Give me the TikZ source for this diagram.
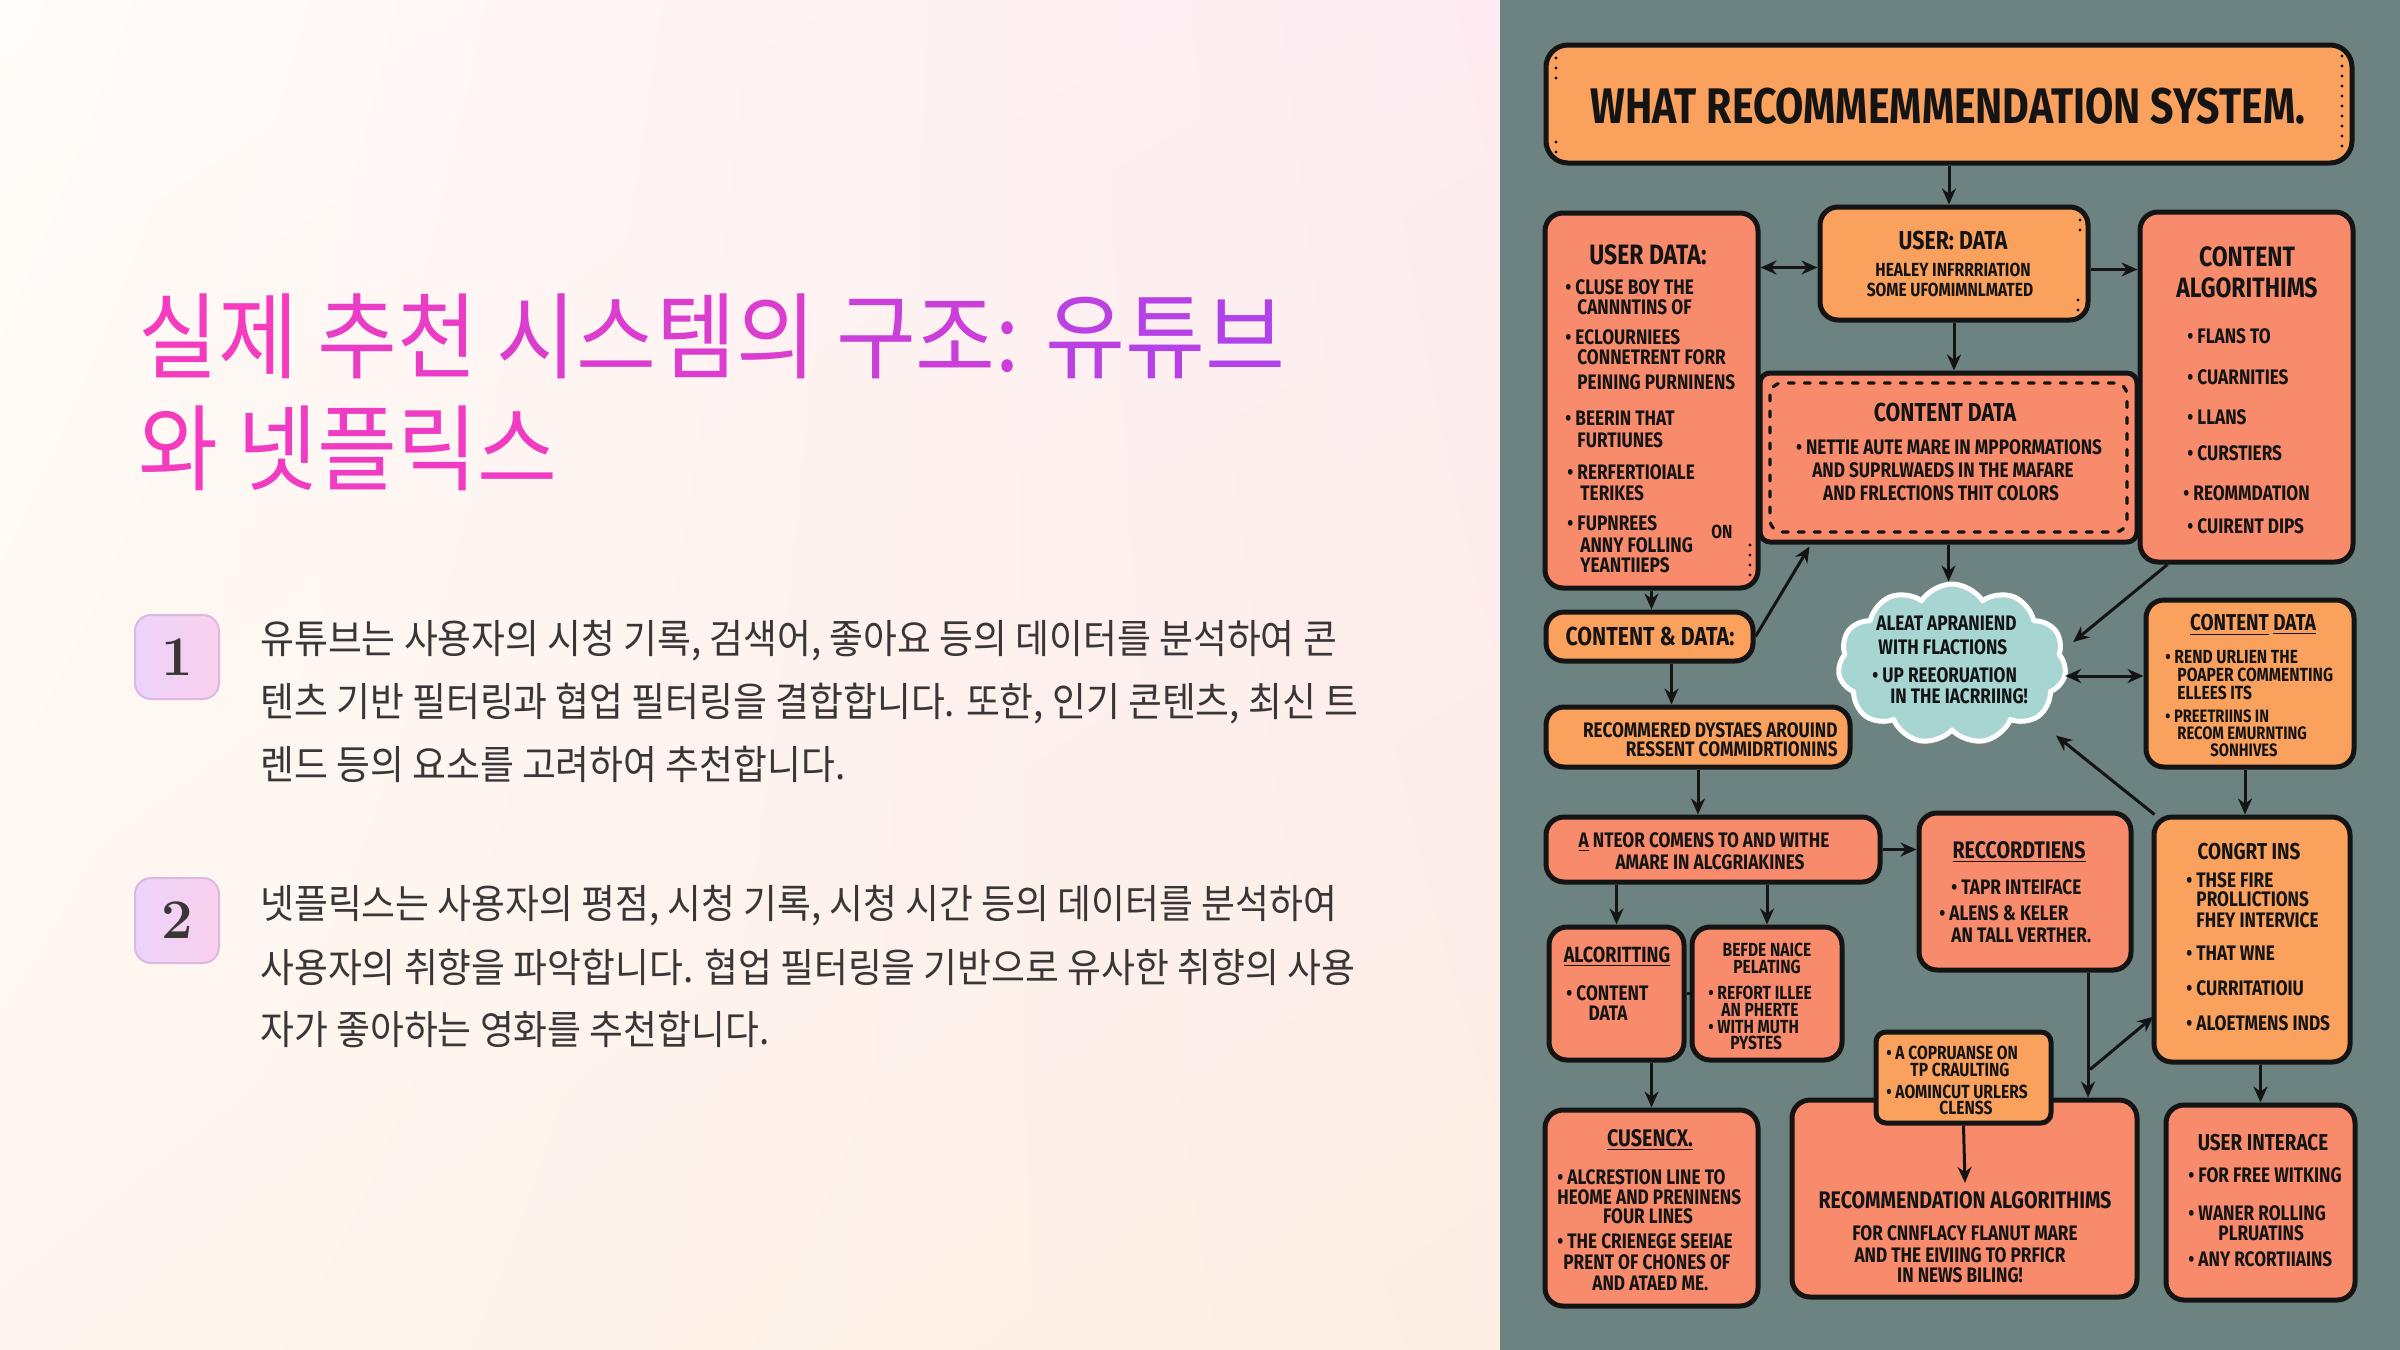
\documentclass[tikz,border=0pt]{standalone}
\usepackage{fontspec}
\usetikzlibrary{arrows.meta,shapes.symbols,fit,calc,shadings}
\newfontfamily\kr[FakeStretch=0.92]{Noto Sans CJK KR}
\newfontfamily\krt[FakeStretch=0.924]{Noto Sans CJK KR}
\newfontfamily\hand[FakeStretch=0.82]{Fira Sans}
\definecolor{gbg}{HTML}{6C8381}
\definecolor{ora}{HTML}{F9A15D}
\definecolor{sal}{HTML}{F88B6B}
\definecolor{cloudc}{HTML}{A6D5D2}
\definecolor{pk}{HTML}{F53BBE}
\definecolor{pu}{HTML}{B042EA}
\definecolor{kt}{HTML}{383636}
\definecolor{ink}{HTML}{141414}
\definecolor{nbA}{HTML}{EBD3FA}
\definecolor{nbB}{HTML}{FBD0EC}
\definecolor{nbD}{HTML}{DDB8E2}
\definecolor{bgUL}{HTML}{FFFCF9}
\definecolor{bgUR}{HTML}{FDEBF1}
\definecolor{bgLL}{HTML}{FEF6EE}
\definecolor{bgLR}{HTML}{FDEEE4}
\newcounter{tl}
\newcommand\hl[4][]{\stepcounter{tl}\edef\tlname{t\arabic{tl}}\node[bt,#1] (\tlname) at (#2,#3) {#4};}
\newcommand\hc[4][]{\hl[anchor=center,#1]{#2}{#3}{#4}}
\begin{document}
\begin{tikzpicture}[x=0.5pt,y=-0.5pt,line join=round,
  box/.style={draw=ink,line width=2.5pt,rounded corners=9pt,inner sep=0pt},
  bt/.style={inner sep=0pt,anchor=west,text=ink,font=\hand\bfseries\fontsize{10.5}{12}\selectfont},
  sm/.style={font=\hand\bfseries\fontsize{9.5}{11}\selectfont},
  xs/.style={font=\hand\bfseries\fontsize{9}{10}\selectfont},
  hd/.style={font=\hand\bfseries\fontsize{12}{14}\selectfont},
  arr/.style={draw=ink,line width=1.5pt,-{Stealth[length=8pt,width=7pt]}},
  darr/.style={draw=ink,line width=1.5pt,{Stealth[length=8pt,width=7pt]}-{Stealth[length=8pt,width=7pt]}},
  dotline/.style={draw=ink,line width=1.6pt,line cap=round,dash pattern=on 0pt off 5pt},
  kb/.style={inner sep=0pt,anchor=west,text=kt,font=\kr\fontsize{20}{24}\selectfont},
  numbox/.style={draw=nbD,line width=1pt,rounded corners=8pt,left color=nbA,right color=nbB,inner sep=0pt},
  numtxt/.style={text=kt,font=\bfseries\fontsize{28}{30}\selectfont}]
\useasboundingbox (0,0) rectangle (2400,1350);
% left background
\shade[upper left=bgUL,upper right=bgUR,lower left=bgLL,lower right=bgLR] (0,0) rectangle (1500,1350);
% title
\node[kb,text=pk,font=\krt\fontsize{47}{50}\selectfont] (ttl1) at (138,336)
  {\color{pk}실제 \color{pk!85!pu}추천 \color{pk!62!pu}시스템의 \color{pk!38!pu}구조: \color{pk!18!pu}유\color{pk!9!pu}튜\color{pu}브};
\node[kb,text=pk,font=\krt\fontsize{47}{50}\selectfont] (ttl2) at (138,448) {와 \color{pk!92!pu}넷플릭스};
% number boxes
\node[numbox,fit={(135,615)(219,699)}] (n1) {};
\node[numtxt] (n1t) at (n1.center) {1};
\node[numbox,fit={(135,878)(219,963)}] (n2) {};
\node[numtxt] (n2t) at (n2.center) {2};
% paragraphs
\node[kb] (p1a) at (260,641) {유튜브는 사용자의 시청 기록, 검색어, 좋아요 등의 데이터를 분석하여 콘};
\node[kb] (p1b) at (260,704) {텐츠 기반 필터링과 협업 필터링을 결합합니다. 또한, 인기 콘텐츠, 최신 트};
\node[kb] (p1c) at (260,764) {렌드 등의 요소를 고려하여 추천합니다.};
\node[kb] (p2a) at (260,906) {넷플릭스는 사용자의 평점, 시청 기록, 시청 시간 등의 데이터를 분석하여};
\node[kb] (p2b) at (260,967) {사용자의 취향을 파악합니다. 협업 필터링을 기반으로 유사한 취향의 사용};
\node[kb] (p2c) at (260,1029) {자가 좋아하는 영화를 추천합니다.};
% right panel
\fill[gbg] (1500,0) rectangle (2400,1350);
% boxes
\node[box,fill=ora,rounded corners=11pt,fit={(1546,45)(2352,163)}] (tb) {};
\node[box,fill=ora,fit={(1820,207)(2088,320)}] (ub) {};
\node[box,fill=sal,fit={(1545,213)(1758,588)}] (ud) {};
\node[box,fill=sal,fit={(2140,212)(2353,562)}] (ca) {};
\node[box,fill=sal,rounded corners=5pt,fit={(1760,373)(2137,542)}] (cd) {};
\node[box,fill=ora,fit={(1546,612)(1753,661)}] (cdd) {};
\node[box,fill=ora,fit={(1546,707)(1850,767)}] (rd) {};
\node[box,fill=ora,fit={(2146,600)(2354,767)}] (rcd) {};
\node[box,fill=sal,fit={(1546,817)(1880,882)}] (an) {};
\node[box,fill=sal,fit={(1919,813)(2131,970)}] (rc) {};
\node[box,fill=ora,fit={(2154,817)(2350,1062)}] (cg) {};
\node[box,fill=sal,fit={(1549,927)(1684,1060)}] (al) {};
\node[box,fill=sal,fit={(1692,927)(1842,1060)}] (bf) {};
\node[box,fill=sal,fit={(1792,1100)(2137,1297)}] (ra) {};
\node[box,fill=ora,rounded corners=5pt,fit={(1876,1032)(2051,1123)}] (sb) {};
\node[box,fill=sal,fit={(1545,1110)(1758,1306)}] (cu) {};
\node[box,fill=sal,fit={(2166,1105)(2355,1300)}] (ui) {};
\node[cloud,cloud puffs=11,cloud puff arc=115,aspect=1.42,draw=white,line width=2.5pt,fill=cloudc,
      minimum width=114pt,minimum height=80pt,inner sep=0pt] (cl) at (1952,664) {};
% decorative dots
\draw[dotline,dash pattern=on 3pt off 5pt,rounded corners=6pt] (1770,383) rectangle (2127,532);
\draw[dotline] (1556,58) -- (1556,80);
\draw[dotline] (1556,142) -- (1556,152);
\draw[dotline] (2342,56) -- (2342,152);
\draw[dotline] (1750,545) -- (1750,580);
\draw[dotline] (2080,220) -- (2080,232);
\draw[dotline] (2078,300) -- (2078,312);
% texts: title box
\hc[font=\hand\bfseries\fontsize{25}{30}\selectfont]{1948}{106}{WHAT RECOMMEMMENDATION SYSTEM.}
% user: data
\hc[hd,font=\hand\bfseries\fontsize{13}{15}\selectfont]{1953}{240}{USER: DATA}
\hc[sm]{1953}{270}{HEALEY INFRRRIATION}
\hc[sm]{1950}{290}{SOME UFOMIMNLMATED}
% user data
\hc[hd,font=\hand\bfseries\fontsize{14}{16}\selectfont]{1648}{255}{USER DATA:}
\hl{1565}{287}{• CLUSE BOY THE}
\hl{1577}{307}{CANNNTINS OF}
\hl{1565}{337}{• ECLOURNIEES}
\hl{1577}{357}{CONNETRENT FORR}
\hl{1577}{382}{PEINING PURNINENS}
\hl{1565}{418}{• BEERIN THAT}
\hl{1577}{440}{FURTIUNES}
\hl{1567}{472}{• RERFERTIOIALE}
\hl{1580}{493}{TERIKES}
\hl{1567}{523}{• FUPNREES}
\hl[sm]{1711}{532}{ON}
\hl{1580}{545}{ANNY FOLLING}
\hl{1580}{565}{YEANTIIEPS}
% content algorithims
\hc[hd,font=\hand\bfseries\fontsize{14}{16}\selectfont]{2247}{257}{CONTENT}
\hc[hd,font=\hand\bfseries\fontsize{14}{16}\selectfont]{2247}{288}{ALGORITHIMS}
\hl{2187}{336}{• FLANS TO}
\hl{2187}{377}{• CUARNITIES}
\hl{2187}{417}{• LLANS}
\hl{2187}{453}{• CURSTIERS}
\hl{2183}{493}{• REOMMDATION}
\hl{2187}{526}{• CUIRENT DIPS}
% content data (centre)
\hc[hd,font=\hand\bfseries\fontsize{13}{15}\selectfont]{1945}{412}{CONTENT DATA}
\hc{1949}{447}{• NETTIE AUTE MARE IN MPPORMATIONS}
\hc{1943}{470}{AND SUPRLWAEDS IN THE MAFARE}
\hc{1941}{493}{AND FRLECTIONS THIT COLORS}
% cloud
\hl{1876}{623}{ALEAT APRANIEND}
\hl{1878}{647}{WITH FLACTIONS}
\hl{1872}{675}{• UP REEORUATION}
\hl{1890}{696}{IN THE IACRRIING!}
% content & data
\hc[hd,font=\hand\bfseries\fontsize{13}{15}\selectfont]{1650}{636}{CONTENT \& DATA:}
% recommered
\hl[anchor=east]{1838}{730}{RECOMMERED DYSTAES AROUIND}
\hl[anchor=east]{1838}{749}{RESSENT COMMIDRTIONINS}
% right content data
\hc[hd,font=\hand\bfseries\fontsize{11.5}{13}\selectfont]{2253}{625}{\underline{CONTENT} \underline{DATA}}
\hl[sm]{2165}{657}{• REND URLIEN THE}
\hl[sm]{2177}{675}{POAPER COMMENTING}
\hl[sm]{2177}{693}{ELLEES ITS}
\hl[xs]{2165}{716}{• PREETRIINS IN}
\hl[xs]{2177}{733}{RECOM EMURNTING}
\hl[xs]{2210}{750}{SONHIVES}
% a nteor
\hc{1704}{842}{\underline{A} NTEOR COMENS TO AND WITHE}
\hc{1710}{862}{AMARE IN ALCGRIAKINES}
% reccordtiens
\hc[hd]{2019}{852}{\underline{RECCORDTIENS}}
\hl{1951}{887}{• TAPR INTEIFACE}
\hl{1939}{913}{• ALENS \& KELER}
\hl{1951}{935}{AN TALL VERTHER.}
% congrt ins
\hc[hd,font=\hand\bfseries\fontsize{11.5}{13}\selectfont]{2249}{852}{CONGRT INS}
\hl{2186}{880}{• THSE FIRE}
\hl{2196}{899}{PROLLICTIONS}
\hl{2196}{920}{FHEY INTERVICE}
\hl{2186}{953}{• THAT WNE}
\hl{2186}{988}{• CURRITATIOIU}
\hl{2186}{1023}{• ALOETMENS INDS}
% alcoritting
\hc[hd,font=\hand\bfseries\fontsize{11}{13}\selectfont]{1617}{957}{\underline{ALCORITTING}}
\hl{1566}{993}{• CONTENT}
\hc{1608}{1013}{DATA}
% befde
\hc[sm]{1767}{950}{BEFDE NAICE}
\hc[sm]{1767}{967}{PELATING}
\hl[sm]{1708}{993}{• REFORT ILLEE}
\hl[sm]{1721}{1010}{AN PHERTE}
\hl[sm]{1708}{1027}{• WITH MUTH}
\hl[sm]{1730}{1043}{PYSTES}
% recommendation algorithims
\node[bt,anchor=center,inner sep=4pt,font=\hand\bfseries\fontsize{12}{14}\selectfont] (rah) at (1965,1200) {RECOMMENDATION ALGORITHIMS};
\hc{1965}{1233}{FOR CNNFLACY FLANUT MARE}
\hc{1960}{1255}{AND THE EIVIING TO PRFICR}
\hc{1960}{1275}{IN NEWS BILING!}
% small box
\hl[sm]{1886}{1053}{• A COPRUANSE ON}
\hl[sm]{1910}{1070}{TP CRAULTING}
\hl[sm]{1886}{1092}{• AOMINCUT URLERS}
\hc[sm]{1966}{1108}{CLENSS}
% cusencx
\hc[hd]{1650}{1140}{\underline{CUSENCX.}}
\hl{1557}{1177}{• ALCRESTION LINE TO}
\hl{1557}{1197}{HEOME AND PRENINENS}
\hc{1648}{1216}{FOUR LINES}
\hl{1557}{1241}{• THE CRIENEGE SEEIAE}
\hl{1563}{1262}{PRENT OF CHONES OF}
\hl{1592}{1283}{AND ATAED ME.}
% user interace
\hc[hd,font=\hand\bfseries\fontsize{11.5}{13}\selectfont]{2263}{1143}{USER INTERACE}
\hl{2188}{1175}{• FOR FREE WITKING}
\hl{2188}{1213}{• WANER ROLLING}
\hl{2218}{1233}{PLRUATINS}
\hl{2188}{1259}{• ANY RCORTIIAINS}
% connectors
\draw[arr] (tb.south) -- (tb.south |- ub.north);
\draw[darr] ($(ud.east |- ub.west)+(0,4)$) -- ($(ub.west)+(0,4)$);
\draw[arr] ($(ub.east)+(0,6)$) -- ($(ub.east -| ca.west)+(0,6)$);
\draw[arr] (ub.south) -- (ub.south |- cd.north);
\draw[arr] (cd.south) -- (cd.south |- cl.north);
\draw[arr] (ud.south) -- (ud.south |- cdd.north);
\draw[arr] (cdd.east) -- ($(cd.south west)+(52,2)$);
\draw[arr] ($(cdd.south)+(22,0)$) -- ($(cdd.south |- rd.north)+(22,0)$);
\draw[arr] ($(ca.south west)+(30,0)$) -- ($(cl.east)+(6,-22)$);
\draw[darr] ($(cl.east)+(-2,12)$) -- ($(cl.east -| rcd.west)+(0,12)$);
\draw[arr] ($(cg.north west)+(3,0)$) -- ($(cl.south east)+(22,14)$);
\draw[arr] ($(rcd.south)+(-5,0)$) -- ($(rcd.south |- cg.north)+(-5,0)$);
\draw[arr] (rd.south) -- (rd.south |- an.north);
\draw[arr] (an.east) -- (an.east -| rc.west);
\draw[arr] (al.north |- an.south) -- (al.north);
\draw[arr] (bf.north |- an.south) -- (bf.north);
\draw[draw=ink,line width=1.5pt] (al.east) -- (bf.west);
\draw[arr] (cu.north |- al.south) -- (cu.north);
\draw[arr] ($(rc.south)+(63,0)$) -- ($(rc.south |- ra.north)+(63,0)$);
\draw[arr] ($(rc.south)+(65,97)$) -- ($(cg.west)+(2,77)$);
\draw[arr] (sb.south) -- (rah.north);
\draw[arr] (ui.north |- cg.south) -- (ui.north);
\end{tikzpicture}
\end{document}
